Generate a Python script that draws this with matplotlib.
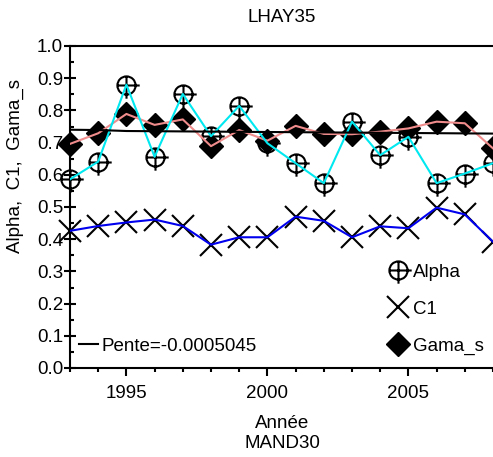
import matplotlib.pyplot as plt
from matplotlib.path import Path
from matplotlib.ticker import MultipleLocator, FormatStrFormatter

plt.rcParams['font.family'] = ['Liberation Sans', 'DejaVu Sans']

years = [1993, 1994, 1995, 1996, 1997, 1998, 1999, 2000,
         2001, 2002, 2003, 2004, 2005, 2006, 2007, 2008]
alpha = [0.586, 0.641, 0.880, 0.656, 0.851, 0.720, 0.814, 0.698,
         0.636, 0.574, 0.765, 0.661, 0.718, 0.574, 0.604, 0.636]
c1 = [0.426, 0.441, 0.452, 0.461, 0.441, 0.383, 0.406, 0.406,
      0.470, 0.457, 0.406, 0.440, 0.434, 0.498, 0.477, 0.392]
gama_s = [0.696, 0.729, 0.789, 0.755, 0.772, 0.689, 0.739, 0.706,
          0.752, 0.727, 0.726, 0.734, 0.744, 0.765, 0.760, 0.682]
trend_years = [1993, 1994, 1995, 2008]
trend_vals = [0.740, 0.739, 0.736, 0.728]

# circle with a cross that sticks out on the right and bottom
circ = Path.unit_circle()
cross = Path([(-1.0, 0), (1.45, 0), (0, 1.0), (0, -1.45)],
             [Path.MOVETO, Path.LINETO, Path.MOVETO, Path.LINETO])
circ_plus = Path.make_compound_path(circ, cross)

fig = plt.figure(figsize=(4.93, 4.57), dpi=100)
ax = fig.add_axes([70 / 493, 89 / 457, 1 - 70 / 493, 322 / 457])

h_c1, = ax.plot(years, c1, linestyle='none', marker='x', ms=16, mew=1.5,
                color='black', clip_on=False, zorder=2)
h_gs, = ax.plot(years, gama_s, linestyle='none', marker='D', ms=12,
                color='black', clip_on=False, zorder=2)
h_al, = ax.plot(years, alpha, linestyle='none', marker=circ_plus, ms=19,
                mew=1.5, mfc='none', color='black', clip_on=False, zorder=2)

ax.plot(years, c1, color='#0000ee', lw=1.5, zorder=3)
ax.plot(years, gama_s, color='#f08c8c', lw=1.5, zorder=3)
ax.plot(years, alpha, color='#00e8f0', lw=1.5, zorder=3)
h_tr, = ax.plot(trend_years, trend_vals, color='black', lw=1.5, zorder=3)

ax.set_xlim(1993, 2008)
ax.set_ylim(0, 1)
ax.xaxis.set_major_locator(MultipleLocator(5))
ax.xaxis.set_minor_locator(MultipleLocator(1))
ax.yaxis.set_major_locator(MultipleLocator(0.1))
ax.yaxis.set_minor_locator(MultipleLocator(0.05))
ax.yaxis.set_major_formatter(FormatStrFormatter('%.1f'))
ax.tick_params(axis='x', which='major', direction='out', length=6, width=1.5,
               labelsize=13.5, pad=6)
ax.tick_params(axis='x', which='minor', direction='out', length=3, width=1.5)
ax.tick_params(axis='y', which='major', direction='inout', length=8, width=1.5,
               labelsize=13.5, pad=1)
ax.tick_params(axis='y', which='minor', direction='in', length=3, width=1.5)
for s in ['left', 'bottom', 'top']:
    ax.spines[s].set_linewidth(1.5)
ax.spines['right'].set_visible(False)

leg1 = ax.legend([h_tr], ['Pente=-0.0005045'], loc='lower left',
                 bbox_to_anchor=(0.0, 0.012), frameon=False, fontsize=13.5,
                 handlelength=1.0, handletextpad=0.2, borderaxespad=0.1)
ax.add_artist(leg1)
ax.legend([h_al, h_c1, h_gs], ['Alpha', 'C1', 'Gama_s'], loc='lower right',
          bbox_to_anchor=(1.0, 0.012), frameon=False, fontsize=13.5,
          handlelength=1.0, handletextpad=0.3, labelspacing=1.05,
          borderaxespad=0.1)

fig.text(282 / 493, 1 - 17 / 457, 'LHAY35', ha='center', va='center',
         fontsize=13.5)
fig.text(15 / 493, 1 - 166 / 457, 'Alpha,  C1,  Gama_s', rotation=90,
         ha='center', va='center', fontsize=13.5)
fig.text(282 / 493, 1 - 424 / 457, 'Année', ha='center', va='center',
         fontsize=13.5)
fig.text(282 / 493, 1 - 443 / 457, 'MAND30', ha='center', va='center',
         fontsize=13.5)

fig.savefig('out.png', dpi=100)
